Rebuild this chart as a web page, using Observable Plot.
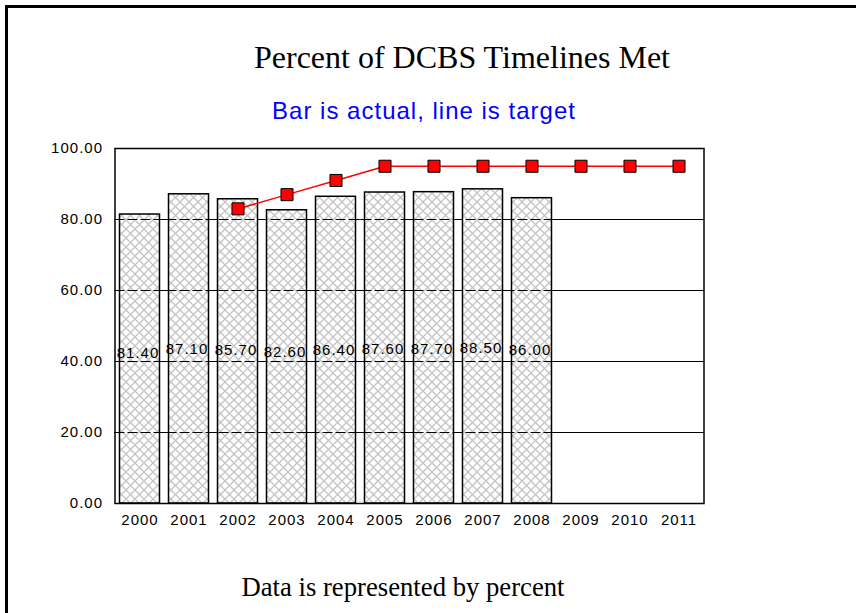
<!DOCTYPE html>
<html>
<head>
<meta charset="utf-8">
<script src="https://cdn.jsdelivr.net/npm/d3@7"></script>
<script src="https://cdn.jsdelivr.net/npm/@observablehq/plot@0.6"></script>
<style>
  html, body { margin: 0; padding: 0; background: #fff; width: 856px; height: 613px; overflow: hidden; }
  #frame { position: absolute; left: 5px; top: 5px; width: 1000px; height: 1000px; border-left: 3px solid #000; border-top: 3px solid #000; }
  .t { position: absolute; white-space: nowrap; transform: translateX(-50%); line-height: 1; }
  #title { left: 462px; top: 41px; font-family: "Liberation Serif", "Times New Roman", serif; font-size: 32px; color: #000; }
  #subtitle { left: 424px; top: 99px; font-family: "Liberation Sans", Arial, sans-serif; font-size: 24px; letter-spacing: 1px; color: #0000ff; }
  #caption { left: 403px; top: 574px; font-family: "Liberation Serif", "Times New Roman", serif; font-size: 26.7px; color: #000; }
  #chart { position: absolute; left: 0; top: 130px; line-height: 0; }
  #chart svg { display: block; font-family: "Liberation Sans", Arial, sans-serif; font-size: 15px; letter-spacing: 1px; overflow: visible; }
</style>
</head>
<body>
<div id="frame"></div>
<div class="t" id="title">Percent of DCBS Timelines Met</div>
<div class="t" id="subtitle">Bar is actual, line is target</div>
<div id="chart"></div>
<div class="t" id="caption">Data is represented by percent</div>
<script>
const years = ["2000","2001","2002","2003","2004","2005","2006","2007","2008","2009","2010","2011"];
const actualYears = ["2000","2001","2002","2003","2004","2005","2006","2007","2008"];
const actual = [81.4, 87.1, 85.7, 82.6, 86.4, 87.6, 87.7, 88.5, 86.0];
const targetYears = ["2002","2003","2004","2005","2006","2007","2008","2009","2010","2011"];
const target = [83, 87, 91, 95, 95, 95, 95, 95, 95, 95];
const yTicks = [0, 20, 40, 60, 80, 100];
const gridLines = [20, 40, 60, 80];

const bars = actualYears.map((y, i) => ({year: y, v: actual[i]}));
const targets = targetYears.map((y, i) => ({year: y, v: target[i]}));
const fmt = d3.format(".2f");

const chart = Plot.plot({
  width: 856,
  height: 410,
  marginLeft: 114.5,
  marginRight: 152.5,
  marginTop: 18,
  marginBottom: 37,
  x: {type: "band", domain: years, padding: 0},
  y: {domain: [0, 100]},
  marks: [
    Plot.ruleY(gridLines, {stroke: "#000", strokeWidth: 1}),
    Plot.barY(bars, {x: "year", y: "v", fill: "url(#hatch)", stroke: "#000", strokeWidth: 1.5, insetLeft: 4.5, insetRight: 4.5}),
    Plot.ruleY(gridLines, {stroke: "#000", strokeWidth: 1, strokeDasharray: "10,3"}),
    Plot.text(bars, {x: "year", y: d => 26 + d.v / 5, text: d => fmt(d.v), fill: "#000", dx: -2, lineAnchor: "middle"}),
    Plot.line(targets, {x: "year", y: "v", stroke: "#ff0000", strokeWidth: 1.5}),
    Plot.dot(targets, {x: "year", y: "v", symbol: "square", r: 6.8, fill: "#ff0000", stroke: "#000", strokeWidth: 1}),
    Plot.frame({stroke: "#000", strokeWidth: 1.5}),
    Plot.axisX({tickSize: 0, tickPadding: 11, label: null, fill: "#000"}),
    Plot.axisY({ticks: yTicks, tickFormat: d => fmt(d), tickSize: 0, tickPadding: 12, label: null, fill: "#000"})
  ]
});

const ns = "http://www.w3.org/2000/svg";
const defs = document.createElementNS(ns, "defs");
defs.innerHTML = '<pattern id="hatch" patternUnits="userSpaceOnUse" width="9" height="9">' +
  '<rect width="9" height="9" fill="#fff"/>' +
  '<path d="M-1,-1L10,10M10,-1L-1,10" stroke="#c4c4c4" stroke-width="1.3"/></pattern>';
chart.insertBefore(defs, chart.firstChild);
document.getElementById("chart").appendChild(chart);
</script>
</body>
</html>
